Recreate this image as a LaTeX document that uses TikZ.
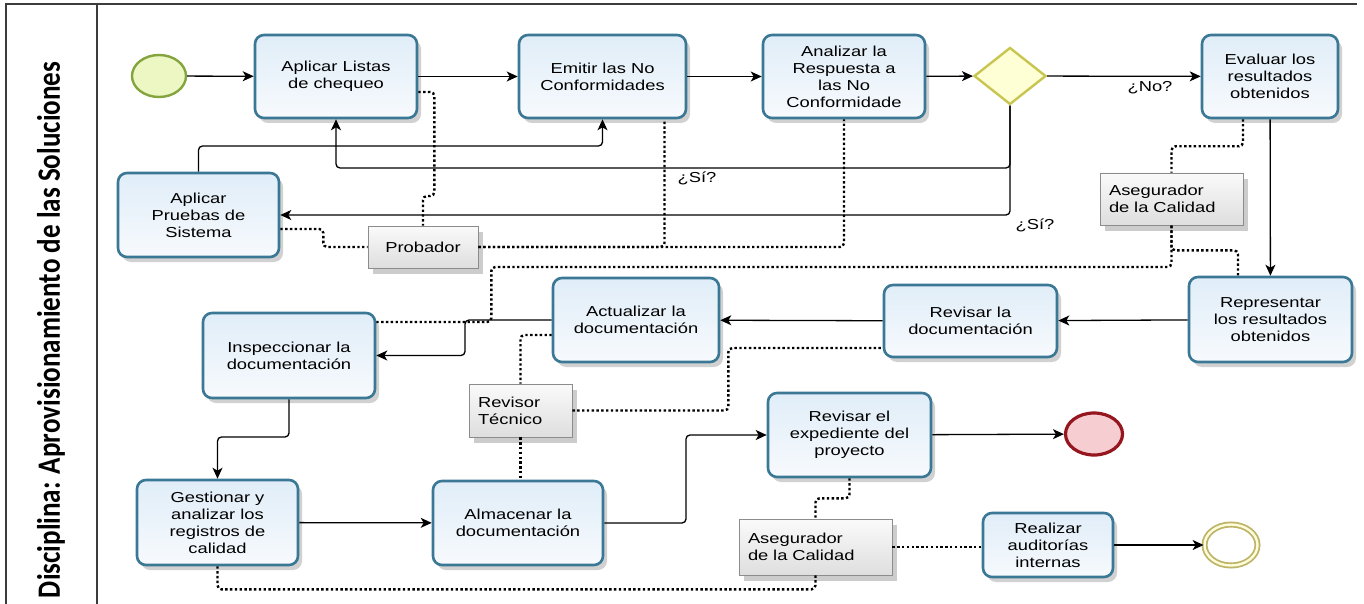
\documentclass[tikz,border=0pt]{standalone}
\usepackage{fontspec}
\setmainfont{Liberation Sans}
\newfontfamily\bpmnfont[FakeStretch=1.27]{Liberation Sans}
\newfontfamily\lanefont{Carlito}
\usetikzlibrary{arrows.meta,shapes.geometric,shadows}

\definecolor{taskedge}{RGB}{58,120,150}
\definecolor{tasktop}{RGB}{224,237,248}
\definecolor{taskbot}{RGB}{247,250,253}
\definecolor{notetop}{RGB}{250,250,250}
\definecolor{notebot}{RGB}{222,222,222}
\definecolor{noteedge}{RGB}{140,140,140}
\definecolor{startfill}{RGB}{236,247,196}
\definecolor{startedge}{RGB}{132,165,62}
\definecolor{endfill}{RGB}{246,206,210}
\definecolor{endedge}{RGB}{150,22,32}
\definecolor{goldedge}{RGB}{190,180,105}
\definecolor{gwfill}{RGB}{255,255,214}
\definecolor{gwedge}{RGB}{200,198,80}
\definecolor{framecol}{RGB}{60,60,60}

\begin{document}
\begin{tikzpicture}[x=1bp,y=-1bp,
  txt/.style={font=\bpmnfont\fontsize{14.5}{17}\selectfont, align=center},
  task/.style={txt, draw=taskedge, line width=2.6bp, rounded corners=9bp,
    top color=tasktop, bottom color=taskbot, inner sep=1bp,
    drop shadow={shadow xshift=4bp, shadow yshift=-5bp, opacity=0.18, fill=black}},
  note/.style={txt, draw=noteedge, line width=0.8bp, top color=notetop, bottom color=notebot,
    inner sep=1bp, align=left,
    drop shadow={shadow xshift=5bp, shadow yshift=-6bp, opacity=0.2, fill=black}},
  startev/.style={ellipse, draw=startedge, fill=startfill, line width=2.4bp, inner sep=0pt,
    minimum width=54bp, minimum height=42bp},
  endev/.style={ellipse, draw=endedge, fill=endfill, line width=3.2bp, inner sep=0pt,
    minimum width=57bp, minimum height=42bp},
  dblend/.style={ellipse, draw=goldedge, line width=1.8bp, double=white!85!yellow,
    double distance=2.4bp, inner sep=0pt, minimum width=53bp, minimum height=41bp},
  gateway/.style={diamond, draw=gwedge, fill=gwfill, line width=2.4bp, inner sep=0pt,
    minimum width=72bp, minimum height=57bp},
  flow/.style={draw=black, line width=1.3bp, rounded corners=4bp,
    -{Stealth[length=11bp,width=10bp,inset=3bp]}},
  assoc/.style={draw=black, line width=2.4bp, dash pattern=on 2.4bp off 2.4bp, rounded corners=4bp},
  lbl/.style={txt},
  frame/.style={draw=framecol, line width=1.8bp}]

\useasboundingbox (0,0) rectangle (1364,604);
\fill[white] (0,0) rectangle (1364,604);

% lane frame and title
\draw[frame] (6,604) -- (6,4) -- (1357,4);
\draw[frame] (97,4) -- (97,604);
\node[rotate=90, inner sep=0pt] (lane) at (51,330)
  {\scalebox{1}[1.2]{\resizebox{536bp}{!}{\lanefont\bfseries Disciplina: Aprovisionamiento de las Soluciones}}};

% events and gateway
\node[startev] (start) at (159,76) {};
\node[gateway] (gw) at (1010,76) {};
\node[endev] (end1) at (1094,434) {};
\node[dblend] (end2) at (1231,545) {};

% tasks
\node[task, minimum width=162bp, minimum height=83bp] (t1) at (336,76.5) {Aplicar Listas\\de chequeo};
\node[task, minimum width=167bp, minimum height=83bp] (t2) at (602.5,76.5) {Emitir las No\\Conformidades};
\node[task, minimum width=162bp, minimum height=83bp] (t3) at (844,76.5) {Analizar la\\Respuesta a\\las No\\Conformidade};
\node[task, minimum width=136bp, minimum height=83bp] (t4) at (1270,76.5) {Evaluar los\\resultados\\obtenidos};
\node[task, minimum width=161bp, minimum height=84bp] (t5) at (198.5,215) {Aplicar\\Pruebas de\\Sistema};
\node[task, minimum width=163bp, minimum height=85bp] (t6) at (1270.5,319.5) {Representar\\los resultados\\obtenidos};
\node[task, minimum width=173bp, minimum height=72bp] (t7) at (970.5,321) {Revisar la\\documentación};
\node[task, minimum width=166bp, minimum height=84bp] (t8) at (636,320) {Actualizar la\\documentación};
\node[task, minimum width=172bp, minimum height=85bp] (t9) at (289,355.5) {Inspeccionar la\\documentación};
\node[task, minimum width=163bp, minimum height=84bp] (t10) at (849.5,435) {Revisar el\\expediente del\\proyecto};
\node[task, minimum width=161bp, minimum height=85bp] (t11) at (217.5,522.5) {Gestionar y\\analizar los\\registros de\\calidad};
\node[task, minimum width=170bp, minimum height=84bp] (t12) at (518,523) {Almacenar la\\documentación};
\node[task, minimum width=130bp, minimum height=64bp] (t13) at (1048,545) {Realizar\\auditorías\\internas};

% role annotations
\node[note, minimum width=110bp, minimum height=42bp, align=center] (a1) at (423,247) {Probador};
\node[note, minimum width=143bp, minimum height=52bp, text width=125bp] (a2) at (1171.5,199) {Asegurador\\de la Calidad};
\node[note, minimum width=103bp, minimum height=53bp, text width=85bp] (a3) at (520.5,410.5) {Revisor\\Técnico};
\node[note, minimum width=153bp, minimum height=56bp, text width=135bp] (a4) at (815.5,547) {Asegurador\\de la Calidad};

% helper rows and columns for routed flows
\coordinate (r146) at (0,146);
\coordinate (r168) at (0,168);
\coordinate (r437) at (0,437);
\coordinate (c465) at (465,0);
\coordinate (c686) at (686,0);

% sequence flows
\draw[flow] (start) -- (t1);
\draw[flow] (t1) -- (t2);
\draw[flow] (t2) -- (t3);
\draw[flow] (t3) -- (gw);
\draw[flow] (gw) -- (t4);
\draw[flow] (gw.south) |- (t1.south |- r168) -- (t1.south);
\draw[flow] (gw.south) |- (t5.east);
\draw[flow] (t5.north) |- (t2.south |- r146) -- (t2.south);
\draw[flow] (t4) -- (t6);
\draw[flow] (t6) -- (t7);
\draw[flow] (t7) -- (t8);
\draw[flow] (t8.west) -- (c465 |- t8.west) |- (t9.east);
\draw[flow] (t9.south) |- (t11.north |- r437) -- (t11.north);
\draw[flow] (t11) -- (t12);
\draw[flow] (t12.east) -- (c686 |- t12.east) |- (t10.west);
\draw[flow] (t10) -- (end1);
\draw[flow] (t13) -- (end2);

% gateway labels
\node[lbl] (lno) at (1150,88) {¿No?};
\node[lbl] (lsi1) at (697,178) {¿Sí?};
\node[lbl] (lsi2) at (1035,225) {¿Sí?};

% associations
\draw[assoc] ([yshift=-15.5bp]t1.east) -- ++(16,0) -- ++(0,104) -| (a1.north);
\draw[assoc] ([yshift=-14bp]t5.east) -- ++(43,0) |- (a1.west);
\draw[assoc] (a1.east) -| ([xshift=62bp]t2.south);
\draw[assoc] (a1.east) -| (t3.south);
\draw[assoc] ([yshift=33.5bp]t9.east) -- ++(115,0) -- ++(0,-55) -| (a2.south);
\draw[assoc] ([xshift=-27bp]t4.south) -- ++(0,27) -| (a2.north);
\draw[assoc] (a2.south) -- ++(0,25) -| ([xshift=-32.5bp]t6.north);
\draw[assoc] ([yshift=-15bp]t8.west) -| (a3.north);
\draw[assoc] (a3.east) -- ++(156,0) |- ([yshift=-27bp]t7.west);
\draw[assoc] (a3.south) -- (a3.south |- t12.north);
\draw[assoc] (t10.south) -- ++(0,20) -| (a4.north);
\draw[assoc] (a4.east) -- (a4.east -| t13.west);
\draw[assoc] (t11.south) -- ++(0,23) -| (a4.south);
\end{tikzpicture}
\end{document}
